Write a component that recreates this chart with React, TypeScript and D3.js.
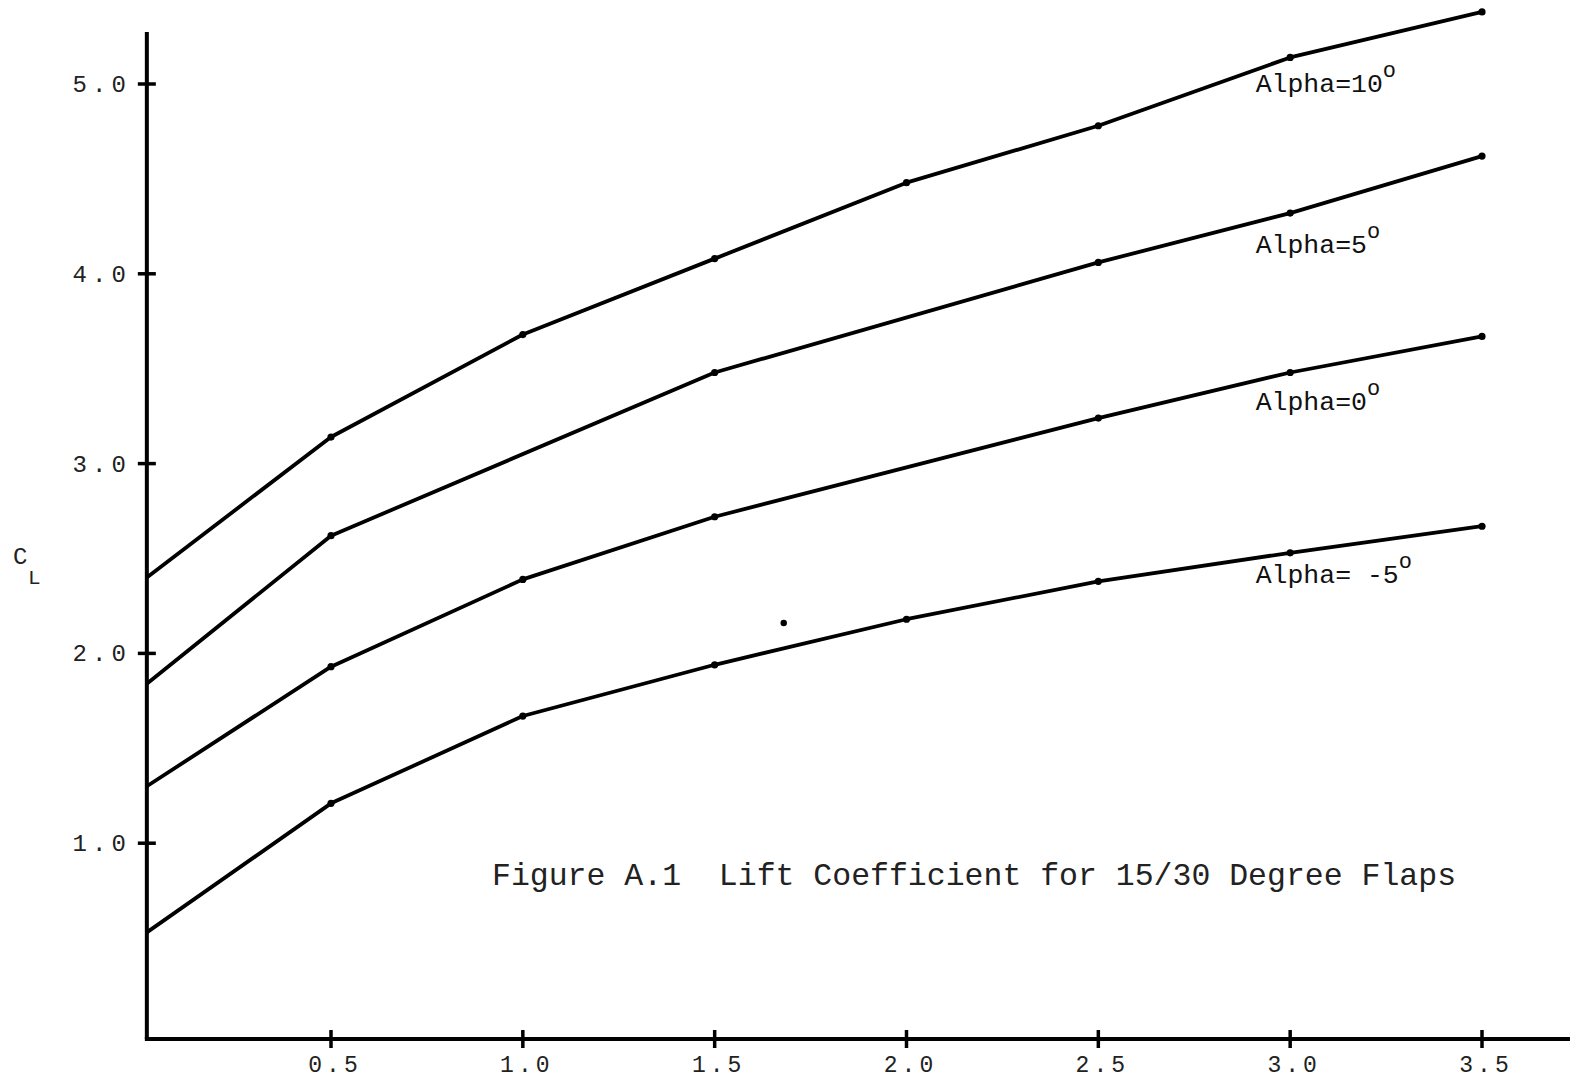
import * as d3 from 'd3';

// lift coefficient curves
const series = [
    { label: 'Alpha=10', x: [0.02, 0.5, 1.0, 1.5, 2.0, 2.5, 3.0, 3.5], y: [2.40, 3.14, 3.68, 4.08, 4.48, 4.78, 5.14, 5.38], lx: 2.91, ly: 4.96 },
    { label: 'Alpha=5', x: [0.02, 0.5, 1.5, 2.5, 3.0, 3.5], y: [1.84, 2.62, 3.48, 4.06, 4.32, 4.62], lx: 2.91, ly: 4.11 },
    { label: 'Alpha=0', x: [0.02, 0.5, 1.0, 1.5, 2.5, 3.0, 3.5], y: [1.30, 1.93, 2.39, 2.72, 3.24, 3.48, 3.67], lx: 2.91, ly: 3.28 },
    { label: 'Alpha= -5', x: [0.02, 0.5, 1.0, 1.5, 2.0, 2.5, 3.0, 3.5], y: [0.53, 1.21, 1.67, 1.94, 2.18, 2.38, 2.53, 2.67], lx: 2.91, ly: 2.37 },
];

const strayDots = [{ x: 1.68, y: 2.16 }];

const xTicks = [0.5, 1.0, 1.5, 2.0, 2.5, 3.0, 3.5];
const yTicks = [1.0, 2.0, 3.0, 4.0, 5.0];

const title = 'Figure A.1  Lift Coefficient for 15/30 Degree Flaps';

const W = 1570;
const H = 1082;

export default function App() {
    const x = d3.scaleLinear().domain([0.5, 3.5]).range([331, 1482]);
    const y = d3.scaleLinear().domain([0, 5]).range([1033, 84]);

    const x0 = x(0.02);
    const axisY = 1039;

    const line = d3.line<[number, number]>()
        .x(d => x(d[0]))
        .y(d => y(d[1]));

    const mono = '"Liberation Mono", "DejaVu Sans Mono", monospace';

    return (
        <svg width={W} height={H} style={{ position: 'absolute', left: 0, top: 0, background: '#fff' }}>
            {/* axes */}
            <line x1={x0} x2={x0} y1={32} y2={axisY} stroke="#000" strokeWidth={4} />
            <line x1={x0 - 2} x2={W} y1={axisY} y2={axisY} stroke="#000" strokeWidth={4} />

            {yTicks.map(t => (
                <g key={'y' + t}>
                    <line x1={x0 - 9} x2={x0 + 9} y1={y(t)} y2={y(t)} stroke="#000" strokeWidth={3.5} />
                    <text x={x0 - 16} y={y(t) + 8} textAnchor="end" fontFamily={mono} fontSize={24}
                        letterSpacing={5} fill="#222">{t.toFixed(1)}</text>
                </g>
            ))}

            {xTicks.map(t => (
                <g key={'x' + t}>
                    <line x1={x(t)} x2={x(t)} y1={axisY - 9} y2={axisY + 9} stroke="#000" strokeWidth={3.5} />
                    <text x={x(t) + 4} y={axisY + 33} textAnchor="middle" fontFamily={mono} fontSize={23}
                        letterSpacing={4} fill="#222">{t.toFixed(1)}</text>
                </g>
            ))}

            {/* axis label */}
            <text x={13} y={564} fontFamily={mono} fontSize={24} fill="#222">C</text>
            <text x={28} y={584} fontFamily={mono} fontSize={21} fill="#222">L</text>

            {series.map(s => {
                const pts = s.x.map((v, i) => [v, s.y[i]] as [number, number]);
                return (
                    <g key={s.label}>
                        <path d={line(pts) ?? ''} fill="none" stroke="#000" strokeWidth={3.8} strokeLinejoin="round" />
                        {pts.slice(1).map((p, i) => (
                            <circle key={i} cx={x(p[0])} cy={y(p[1])} r={3.6} fill="#000" />
                        ))}
                        <text x={x(s.lx)} y={y(s.ly)} fontFamily={mono} fontSize={26.5} fill="#111" style={{ whiteSpace: 'pre' }}>
                            {s.label}
                            <tspan dy={-15} fontSize={22}>o</tspan>
                        </text>
                    </g>
                );
            })}

            {strayDots.map((d, i) => (
                <circle key={'s' + i} cx={x(d.x)} cy={y(d.y)} r={3.2} fill="#000" />
            ))}

            <text x={492} y={885} fontFamily={mono} fontSize={31.5} fill="#222" style={{ whiteSpace: 'pre' }}>{title}</text>
        </svg>
    );
}
